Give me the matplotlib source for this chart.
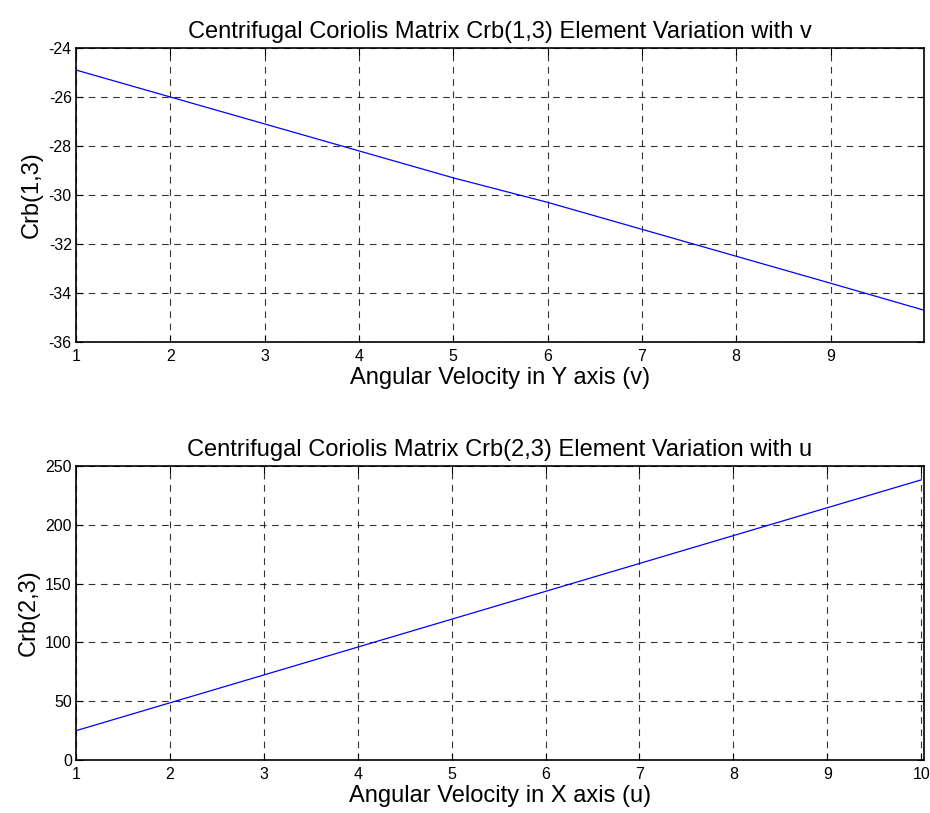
import matplotlib
matplotlib.use('Agg')
import matplotlib.pyplot as plt
import numpy as np

# Crb(1,3) against v
v_vals = [1, 2, 3, 4, 5, 6, 7, 8, 9, 9.99]
crb13 = [-24.9, -26.0, -27.1, -28.2, -29.3, -30.3, -31.4, -32.5, -33.6, -34.7]

# Crb(2,3) against u
u_vals = [1, 2, 3, 4, 5, 6, 7, 8, 9, 10]
crb23 = [24.9, 48.6, 72.3, 96.0, 119.7, 143.4, 167.1, 190.8, 214.5, 238.2]

top_xticks = [1, 2, 3, 4, 5, 6, 7, 8, 9]
top_yticks = [-36, -34, -32, -30, -28, -26, -24]
bot_xticks = [1, 2, 3, 4, 5, 6, 7, 8, 9, 10]
bot_yticks = [0, 50, 100, 150, 200, 250]

plt.rcParams['font.family'] = ['Liberation Sans', 'DejaVu Sans']
plt.rcParams['axes.unicode_minus'] = False

TITLE_FONT_SIZE = 17
AXIS_FONT_SIZE = 17
TICK_FONT_SIZE = 11.5


def format_axes(ax, title, xlabel, ylabel):
    ax.set_title(title, fontsize=TITLE_FONT_SIZE, pad=7)
    ax.set_xlabel(xlabel, fontsize=AXIS_FONT_SIZE, labelpad=2)
    ax.set_ylabel(ylabel, fontsize=AXIS_FONT_SIZE, labelpad=4)
    ax.grid(True, color='black', linestyle=(0, (6, 5)), linewidth=0.8, alpha=0.8)
    ax.tick_params(direction='in', top=True, right=True, length=5,
                   labelsize=TICK_FONT_SIZE)
    ax.tick_params(axis='x', pad=5)
    ax.tick_params(axis='y', pad=3)
    for spine in ax.spines.values():
        spine.set_linewidth(1.2)


fig = plt.figure(figsize=(9.3, 8.13), dpi=100)
ax1 = fig.add_axes([0.0817, 0.5793, 0.9118, 0.3617])
ax2 = fig.add_axes([0.0817, 0.0652, 0.9118, 0.3616])

ax1.plot(v_vals, crb13, color='blue', linewidth=0.9)
ax1.set_xlim(1, 9.99)
ax1.set_ylim(-36, -24)
ax1.set_xticks(top_xticks)
ax1.set_yticks(top_yticks)
format_axes(ax1, 'Centrifugal Coriolis Matrix Crb(1,3) Element Variation with v',
            'Angular Velocity in Y axis (v)', 'Crb(1,3)')

ax2.plot(u_vals, crb23, color='blue', linewidth=0.9)
ax2.set_xlim(1, 10.03)
ax2.set_ylim(0, 250)
ax2.set_xticks(bot_xticks)
ax2.set_yticks(bot_yticks)
format_axes(ax2, 'Centrifugal Coriolis Matrix Crb(2,3) Element Variation with u',
            'Angular Velocity in X axis (u)', 'Crb(2,3)')

fig.savefig('out.png', dpi=100)
